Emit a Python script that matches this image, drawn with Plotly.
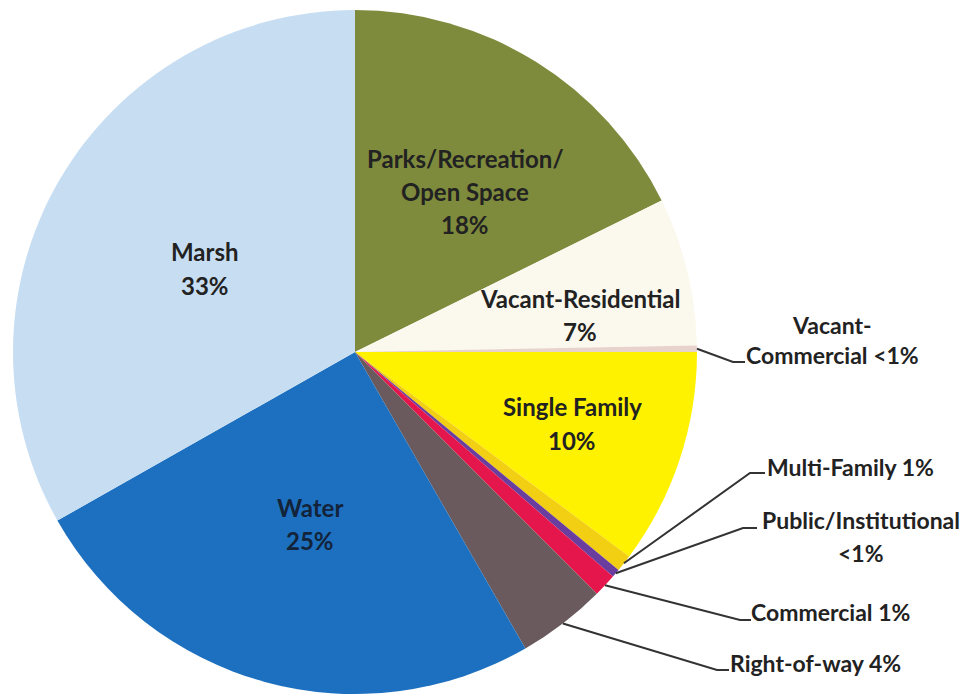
import math
import plotly.graph_objects as go

# ---- data ----
categories = ["Parks/Recreation/Open Space", "Vacant-Residential", "Vacant-Commercial",
              "Single Family", "Multi-Family", "Public/Institutional", "Commercial",
              "Right-of-way", "Water", "Marsh"]
values = [17.7, 7.0, 0.3, 10.2, 0.8, 0.4, 1.1, 4.2, 25.1, 33.2]
colors = ["#7E8A3C", "#FBF9EE", "#E8D2CC", "#FFF200", "#F2CF12", "#6A3E9E",
          "#E5164C", "#6A5A5D", "#1D70BF", "#C7DEF2"]

# label lines (text) per slice
inside_labels = {
    "Marsh": ["Marsh", "33%"],
    "Parks/Recreation/Open Space": ["Parks/Recreation/", "Open Space", "18%"],
    "Vacant-Residential": ["Vacant-Residential", "7%"],
    "Single Family": ["Single Family", "10%"],
    "Water": ["Water", "25%"],
}
outside_labels = {
    "Vacant-Commercial": ["Vacant-", "Commercial <1%"],
    "Multi-Family": ["Multi-Family 1%"],
    "Public/Institutional": ["Public/Institutional", "<1%"],
    "Commercial": ["Commercial 1%"],
    "Right-of-way": ["Right-of-way 4%"],
}

# ---- layout (pixels) ----
W, H = 966, 698
CX, CY, R = 355, 352, 342

def px(x):
    return x / W

def py(y):
    return 1 - y / H

# text placement (layout, px)
inside_pos = {
    "Marsh": (205, [252, 285]),
    "Parks/Recreation/Open Space": (465, [158, 191, 224]),
    "Vacant-Residential": (580, [298, 331]),
    "Single Family": (572, [407, 440]),
    "Water": (310, [507, 540]),
}
outside_pos = {
    "Vacant-Commercial": (832, [325, 355], (733, 362), (745, 362)),
    "Multi-Family": (850, [467], (750, 473), (765, 473)),
    "Public/Institutional": (861, [520, 553], (743, 528), (757, 528)),
    "Commercial": (830, [612], (740, 620), (751, 620)),
    "Right-of-way": (815, [663], (717, 670), (729, 670)),
}

fig = go.Figure(go.Pie(
    labels=categories, values=values, sort=False, direction="clockwise", rotation=0,
    marker=dict(colors=colors, line=dict(width=0)),
    textinfo="none", hoverinfo="label+percent", showlegend=False,
    domain=dict(x=[px(CX - R), px(CX + R)], y=[py(CY + R), py(CY - R)]),
))

FONT = "Lato"
annotations = []
shapes = []

for name, lines in inside_labels.items():
    x, ys = inside_pos[name]
    col = "#13233A" if name == "Water" else "#222222"
    for t, y in zip(lines, ys):
        annotations.append(dict(x=px(x), y=py(y), xref="paper", yref="paper", text="<b>%s</b>" % t,
                                showarrow=False, xanchor="center", yanchor="middle",
                                font=dict(family=FONT, size=24, color=col)))

total = sum(values)
cum = 0.0
mids = {}
for c, v in zip(categories, values):
    mids[c] = (cum + v / 2) / total * 360.0
    cum += v

for name, lines in outside_labels.items():
    x, ys, elbow, end = outside_pos[name]
    for t, y in zip(lines, ys):
        annotations.append(dict(x=px(x), y=py(y), xref="paper", yref="paper", text="<b>%s</b>" % t,
                                showarrow=False, xanchor="center", yanchor="middle",
                                font=dict(family=FONT, size=23, color="#222222")))
    a = math.radians(mids[name])
    tx = CX + R * math.sin(a)
    ty = CY - R * math.cos(a)
    path = "M %f %f L %f %f L %f %f" % (px(tx), py(ty), px(elbow[0]), py(elbow[1]), px(end[0]), py(end[1]))
    shapes.append(dict(type="path", path=path, xref="paper", yref="paper",
                       line=dict(color="#333333", width=2)))

fig.update_layout(
    width=W, height=H, margin=dict(l=0, r=0, t=0, b=0),
    paper_bgcolor="white", plot_bgcolor="white",
    annotations=annotations, shapes=shapes,
)

fig.write_html("out.html", config={"displayModeBar": False},
               post_script="document.body.style.margin='0';document.body.style.overflow='hidden';")
